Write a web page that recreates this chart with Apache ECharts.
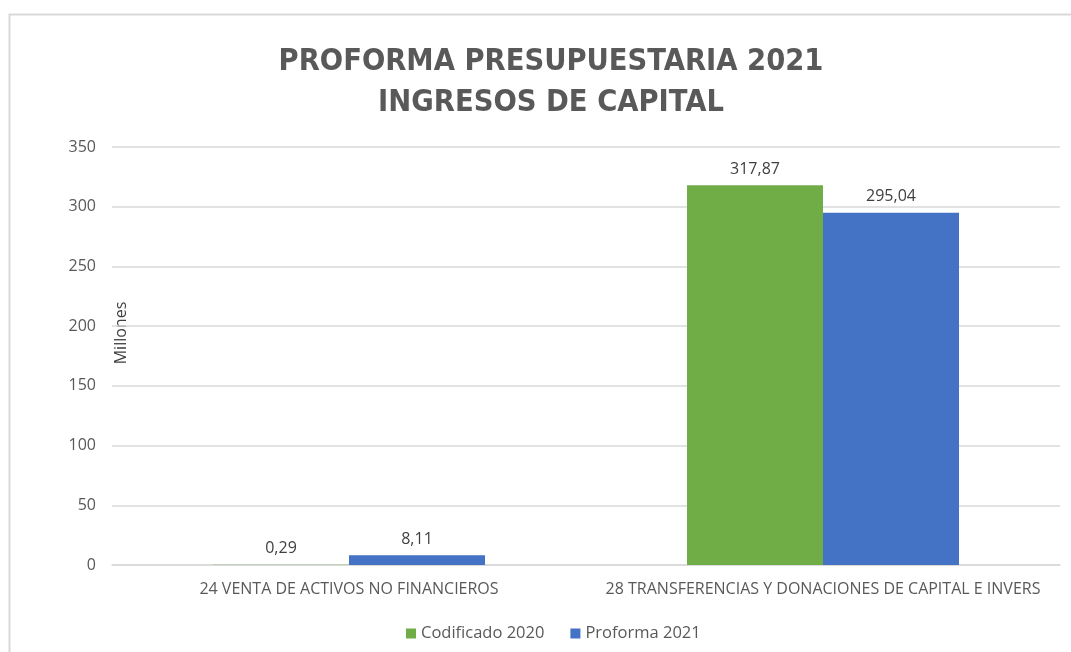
<!DOCTYPE html>
<html>
<head>
<meta charset="utf-8">
<script src="https://cdn.jsdelivr.net/npm/echarts@6/dist/echarts.min.js"></script>
<style>
  html, body { margin: 0; padding: 0; background: #fff; }
  #chart { width: 1071px; height: 652px; }
</style>
</head>
<body>
<div id="chart"></div>
<script>
var categories = ["24 VENTA DE ACTIVOS NO FINANCIEROS", "28 TRANSFERENCIAS Y DONACIONES DE CAPITAL E INVERS"];
var codificado2020 = [0.29, 317.87];
var proforma2021 = [8.11, 295.04];
var seriesNames = ["Codificado 2020", "Proforma 2021"];

var chart = echarts.init(document.getElementById("chart"));

// etiqueta con coma decimal
function fmt(p) {
    return p.value.toFixed(2).replace(".", ",");
}

var labelStyle = {
    show: true,
    position: "top",
    distance: 8,
    color: "#404040",
    fontSize: 16,
    fontFamily: "Open Sans",
    formatter: fmt
};

chart.setOption({
    animation: false,
    backgroundColor: "#fff",
    title: {
        text: "PROFORMA PRESUPUESTARIA 2021\nINGRESOS DE CAPITAL",
        left: 546,
        textAlign: "center",
        top: 37,
        textStyle: {
            color: "#595959",
            fontSize: 30.5,
            fontWeight: "bold",
            fontFamily: "DejaVu Sans Condensed, sans-serif",
            lineHeight: 41
        }
    },
    legend: {
        left: 401,
        top: 620,
        itemWidth: 10,
        itemHeight: 10,
        itemGap: 26,
        icon: "rect",
        textStyle: { color: "#595959", fontSize: 16.5, fontFamily: "Open Sans" },
        data: seriesNames
    },
    grid: { left: 112, right: 11, top: 147, bottom: 87, containLabel: false },
    xAxis: {
        type: "category",
        data: categories,
        axisLine: { lineStyle: { color: "#d9d9d9", width: 1.5 } },
        axisTick: { show: false },
        axisLabel: { color: "#595959", fontSize: 16, fontFamily: "Open Sans", margin: 16, interval: 0 }
    },
    yAxis: {
        type: "value",
        min: 0,
        max: 350,
        interval: 50,
        axisLine: { show: false },
        axisTick: { show: false },
        splitLine: { lineStyle: { color: "#d9d9d9", width: 1.5 } },
        axisLabel: { color: "#595959", fontSize: 16, fontFamily: "Open Sans", margin: 16 }
    },
    graphic: [
        {
            type: "rect",
            shape: { x: 9.5, y: 14.5, width: 1200, height: 800 },
            style: { fill: null, stroke: "#d9d9d9", lineWidth: 2 },
            silent: true
        },
        {
            type: "text",
            x: 121,
            y: 333,
            rotation: Math.PI / 2,
            style: {
                text: "Millones",
                fill: "#404040",
                fontSize: 16,
                fontFamily: "Open Sans",
                align: "center",
                verticalAlign: "middle"
            }
        }
    ],
    series: [
        {
            name: seriesNames[0],
            type: "bar",
            data: codificado2020,
            barWidth: 136,
            barGap: "0%",
            itemStyle: { color: "#70ad47" },
            label: labelStyle
        },
        {
            name: seriesNames[1],
            type: "bar",
            data: proforma2021,
            barWidth: 136,
            barGap: "0%",
            itemStyle: { color: "#4472c4" },
            label: labelStyle
        }
    ]
});
</script>
</body>
</html>
